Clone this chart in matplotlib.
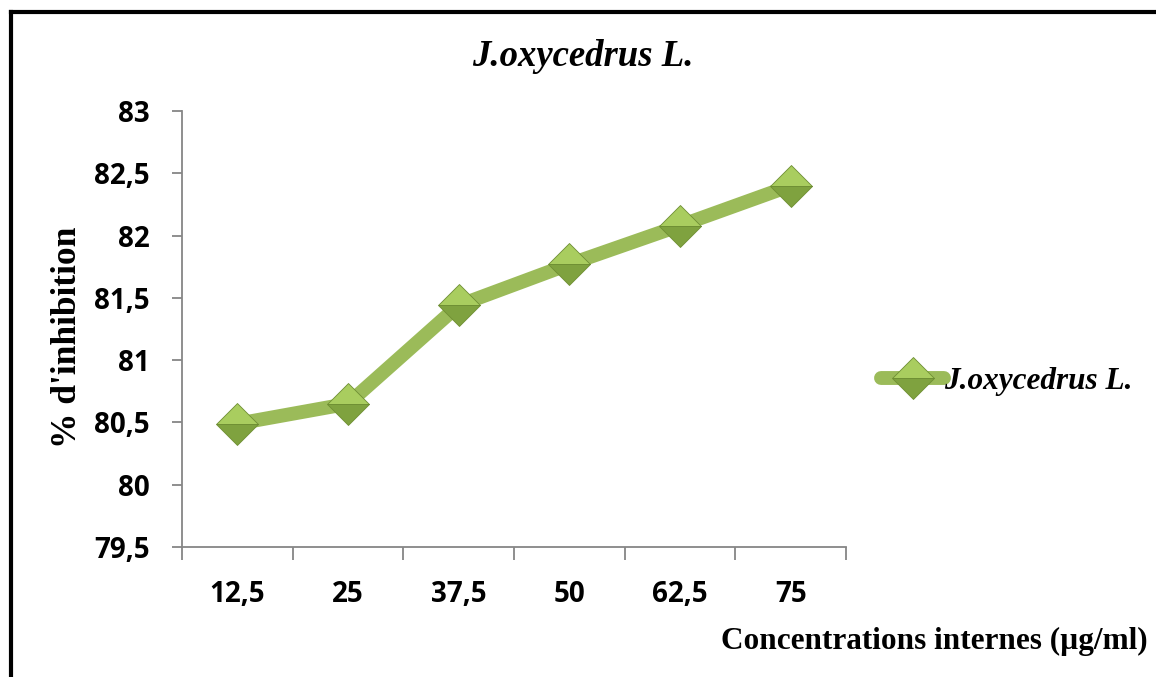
import matplotlib
matplotlib.use("Agg")
import matplotlib.pyplot as plt
from matplotlib.lines import Line2D

# donnees
concentrations = ["12,5", "25", "37,5", "50", "62,5", "75"]
inhibition = [80.49, 80.65, 81.44, 81.77, 82.08, 82.40]
yticks = [79.5, 80, 80.5, 81, 81.5, 82, 82.5, 83]
ytick_labels = ["79,5", "80", "80,5", "81", "81,5", "82", "82,5", "83"]

green = "#9BBB59"
gray = "#868686"

fig = plt.figure(figsize=(11.56, 6.77), dpi=100)
ax = fig.add_axes([0.1574, 0.192, 0.5744, 0.644])

x = list(range(len(concentrations)))
ax.plot(x, inhibition, color=green, lw=10, solid_capstyle="round",
        marker="D", markersize=21, fillstyle="top",
        markerfacecolor="#A9CD5F", markerfacecoloralt="#7FA23F",
        markeredgecolor="#6E8E33", markeredgewidth=0.6,
        label="J.oxycedrus L.", zorder=3)

ax.set_xlim(-0.5, len(concentrations) - 0.5)
ax.set_ylim(79.5, 83)
ax.set_yticks(yticks)
ax.set_yticklabels(ytick_labels)
ax.set_xticks(x)
ax.set_xticklabels(concentrations)
# graduations entre les categories
ax.set_xticks([i - 0.5 for i in range(len(concentrations) + 1)], minor=True)
ax.tick_params(axis="x", which="major", length=0, pad=24)
ax.tick_params(axis="x", which="minor", length=9, color=gray, width=1.3)
ax.tick_params(axis="y", length=7, color=gray, width=1.3, pad=16)

for lab in ax.get_xticklabels() + ax.get_yticklabels():
    lab.set_fontfamily("Open Sans")
    lab.set_fontweight("bold")
    lab.set_fontsize(20)

for s in ["top", "right"]:
    ax.spines[s].set_visible(False)
for s in ["left", "bottom"]:
    ax.spines[s].set_color(gray)
    ax.spines[s].set_linewidth(1.3)

ax.set_ylabel("% d'inhibition", fontfamily="Liberation Serif", fontweight="bold",
              fontsize=25.5)
ax.yaxis.label.set_va("center")
ax.yaxis.set_label_coords(-0.172, 0.48)

fig.text(0.504, 0.916, "J.oxycedrus L.", ha="center", va="center",
         fontfamily="Liberation Serif", fontweight="bold", fontstyle="italic",
         fontsize=26.5)
fig.text(0.993, 0.052, "Concentrations internes (µg/ml)", ha="right", va="center",
         fontfamily="Liberation Serif", fontweight="bold", fontsize=22.5)

leg = fig.legend(loc="center left", bbox_to_anchor=(0.738, 0.436), frameon=False,
                 handlelength=2.0, handletextpad=0.0, numpoints=1,
                 prop={"family": "Liberation Serif", "weight": "bold",
                       "style": "italic", "size": 22.5})

# cadre du graphique (haut et gauche)
fig.add_artist(Line2D([0.0095, 1.0], [0.982, 0.982], color="black", lw=3,
                      transform=fig.transFigure))
fig.add_artist(Line2D([0.0095, 0.0095], [0.0, 0.982], color="black", lw=3,
                      transform=fig.transFigure))

fig.savefig("out.png", dpi=100)
